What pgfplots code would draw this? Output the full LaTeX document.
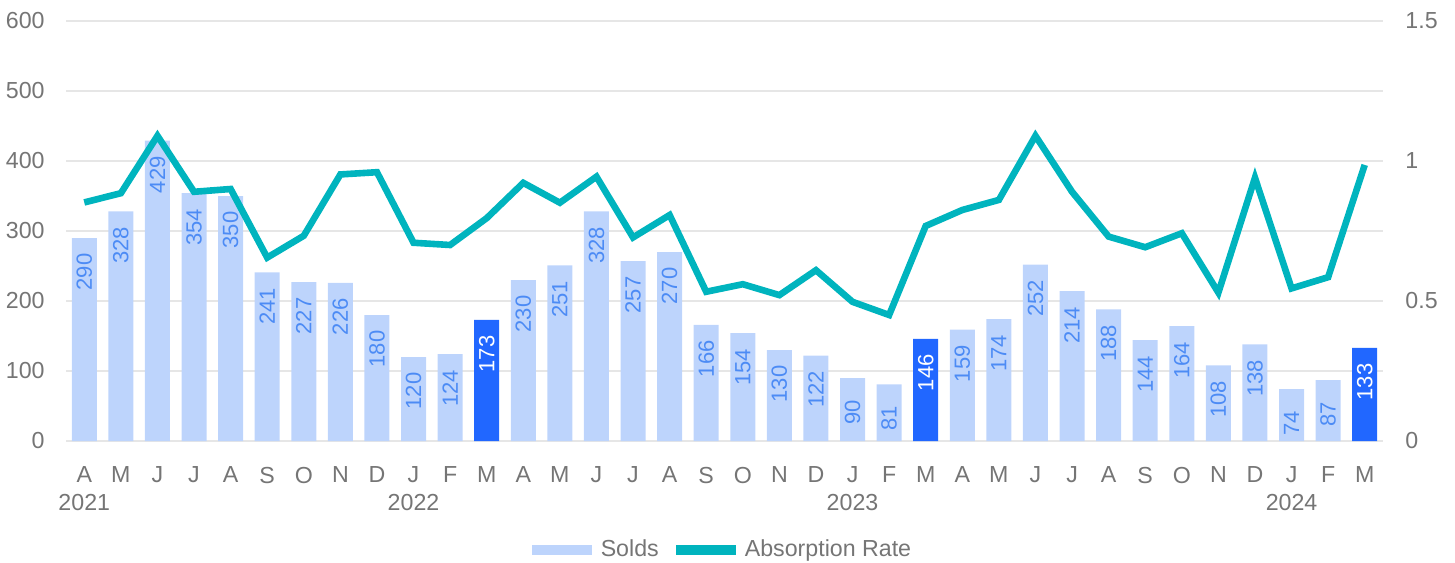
\documentclass[border=0pt]{standalone}
\usepackage{fontspec}
\setmainfont{Liberation Sans}
\usepackage{pgfplots}
\pgfplotsset{compat=1.18}
\pgfplotsset{/pgf/number format/assume math mode=true}
\definecolor{lightbar}{HTML}{BDD4FC}
\definecolor{darkbar}{HTML}{2167FF}
\definecolor{lbltxt}{HTML}{4C8BF5}
\definecolor{linecol}{HTML}{00B4BE}
\definecolor{gridc}{HTML}{E6E6E6}
\definecolor{txtgray}{HTML}{757575}
\begin{document}
\begin{tikzpicture}
\path[use as bounding box] (-33pt,-60.5pt) rectangle (694.5pt,220.5pt);
\begin{axis}[
  width=658.5pt, height=210pt, scale only axis,
  xmin=-0.5, xmax=35.5, ymin=0, ymax=600,
  ytick={0,100,...,600},
  xtick={0,...,35},
  xticklabels={{A\\2021},M,J,J,A,S,O,N,D,{J\\2022},F,M,A,M,J,J,A,S,O,N,D,{J\\2023},F,M,A,M,J,J,A,S,O,N,D,{J\\2024},F,M},
  axis line style={draw=none},
  major tick length=0pt,
  ymajorgrids, grid style={gridc, line width=0.6pt},
  tick label style={font=\fontsize{11.6}{14}\selectfont, text=txtgray, inner sep=0pt},
  yticklabel style={xshift=-10.5pt},
  xticklabel style={align=center, yshift=-12.8pt},
  ybar, bar width=12.5pt,
  nodes near coords,
  nodes near coords style={rotate=90, anchor=center, inner sep=0pt, xshift=-17pt, font=\fontsize{11}{13}\selectfont},
]
\addplot[fill=lightbar, draw=none, bar shift=0pt, nodes near coords style={text=lbltxt}] coordinates {
(0,290) (1,328) (2,429) (3,354) (4,350) (5,241) (6,227) (7,226) (8,180) (9,120) (10,124)
(12,230) (13,251) (14,328) (15,257) (16,270) (17,166) (18,154) (19,130) (20,122) (21,90) (22,81)
(24,159) (25,174) (26,252) (27,214) (28,188) (29,144) (30,164) (31,108) (32,138) (33,74) (34,87)
};
\addplot[fill=darkbar, draw=none, bar shift=0pt, nodes near coords style={text=white}] coordinates {
(11,173) (23,146) (35,133)
};
\end{axis}
\begin{axis}[
  width=658.5pt, height=210pt, scale only axis,
  xmin=-0.5, xmax=35.5, ymin=0, ymax=1.5,
  axis x line=none,
  axis y line*=right,
  axis line style={draw=none},
  major tick length=0pt,
  ytick={0,0.5,1,1.5},
  yticklabels={0,0.5,1,1.5},
  tick label style={font=\fontsize{11.6}{14}\selectfont, text=txtgray, inner sep=0pt},
  yticklabel style={anchor=west, xshift=11pt},
  legend columns=-1,
  legend style={at={(axis description cs:0.4977,0)}, yshift=-54.5pt, anchor=center,
    draw=none, fill=none, inner sep=0pt, column sep=4.5pt,
    font=\fontsize{11.6}{14}\selectfont, text=txtgray, nodes={inner sep=0pt},
    /tikz/every even column/.append style={column sep=8.5pt}},
]
\addlegendimage{legend image code/.code={\path[fill=lightbar, draw=none] (0pt,-2.5pt) rectangle (30pt,2.5pt);}}
\addlegendentry{Solds}
\addplot[linecol, line width=3.3pt, mark=none,
  legend image code/.code={\path[fill=linecol, draw=none] (0pt,-2.5pt) rectangle (30pt,2.5pt);}] coordinates {
(0,0.852) (1,0.885) (2,1.09) (3,0.89) (4,0.90) (5,0.655) (6,0.733) (7,0.952) (8,0.96) (9,0.708)
(10,0.70) (11,0.796) (12,0.922) (13,0.851) (14,0.944) (15,0.727) (16,0.807) (17,0.533) (18,0.56)
(19,0.521) (20,0.61) (21,0.497) (22,0.45) (23,0.768) (24,0.825) (25,0.861) (26,1.09) (27,0.89)
(28,0.73) (29,0.692) (30,0.742) (31,0.53) (32,0.94) (33,0.545) (34,0.585) (35,0.986)
};
\addlegendentry{Absorption Rate}
\end{axis}
\end{tikzpicture}
\end{document}
